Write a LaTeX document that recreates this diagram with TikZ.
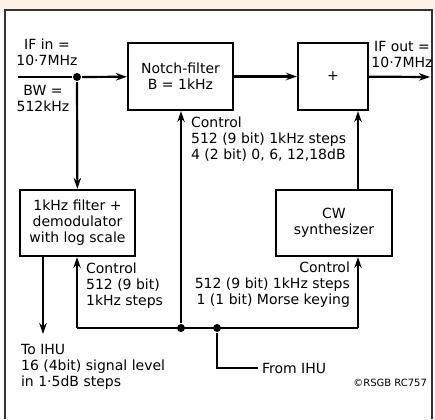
\documentclass[tikz,border=0pt]{standalone}
\usepackage{fontspec}
\setmainfont{DejaVu Sans}
\usetikzlibrary{positioning,arrows.meta}
\begin{document}
\begin{tikzpicture}[x=1pt,y=-1pt,>={Stealth[length=11pt,width=7.5pt]},line width=2.2pt,
  font=\fontsize{14}{16}\selectfont]
\tikzset{blk/.style={draw,align=center,inner sep=0pt},
  txt/.style={align=left,inner sep=0pt,anchor=west},
  dot/.style={circle,fill,inner sep=0pt,minimum size=8pt}}
\useasboundingbox (0,0) rectangle (435,419);
\fill[orange!10] (0,0) rectangle (435,9);
\draw[line width=1.3pt,black!80] (5,419) |- (432,10) -- (432,419);
% blocks
\node[blk,minimum width=105,minimum height=67] (notch) at (180.5,76.5) {Notch-filter\\B = 1kHz};
\node[blk,minimum width=70,minimum height=67] (plus) at (333,76.5) {+};
\node[blk,minimum width=115,minimum height=66] (filt) at (77.5,223) {1kHz filter +\\demodulator\\with log scale};
\node[blk,minimum width=116,minimum height=66] (cw) at (334,223) {CW\\synthesizer};
% junctions and loose ends
\coordinate (in) at (18,77);
\node[dot] (split) at (77,77) {};
\coordinate (out) at (430,77);
\node[dot] (j1) at (181,328) {};
\node[dot] (j2) at (217,328) {};
\coordinate (busl) at (77,328);
\coordinate (busr) at (358,328);
\coordinate (ihu) at (43,334);
\coordinate (from) at (258,368);
% signal path
\draw (in) -- (split);
\draw[->] (split) -- (notch);
\draw[->] (notch) -- (plus);
\draw[->] (plus) -- (out);
\draw[->] (split) -- (filt);
\draw[->] (filt.south -| ihu) -- (ihu);
\draw[->] (cw.north -| busr) -- (busr |- plus.south);
% control bus
\draw (busl) -- (busr);
\draw[->] (busl) -- (busl |- filt.south);
\draw[->] (j1) -- (j1 |- notch.south);
\draw[->] (busr) -- (busr |- cw.south);
\draw (j2) |- (from);
% labels
\node[align=center,inner sep=0pt] (ifin) at (47,52.5) {IF in =\\10·7MHz};
\node[align=center,inner sep=0pt] (bw) at (43,98.5) {BW =\\512kHz};
\node[align=center,inner sep=0pt] (ifout) at (402,54.5) {IF out =\\10·7MHz};
\node[txt] (cnotch) at (190,139) {Control\\512 (9 bit) 1kHz steps\\4 (2 bit) 0, 6, 12,18dB};
\node[txt] (cfilt) at (85,286) {Control\\512 (9 bit)\\1kHz steps};
\node[align=right,inner sep=0pt,anchor=east] (ccw) at (351,285) {Control\\512 (9 bit) 1kHz steps\\1 (1 bit) Morse keying};
\node[txt] (toihu) at (20,367) {To IHU\\16 (4bit) signal level\\in 1·5dB steps};
\node[txt] (fromihu) at (261,368) {From IHU};
\node[inner sep=0pt,anchor=east,font=\fontsize{10}{11}\selectfont] (copy) at (428,383) {©RSGB RC757};
\end{tikzpicture}
\end{document}
